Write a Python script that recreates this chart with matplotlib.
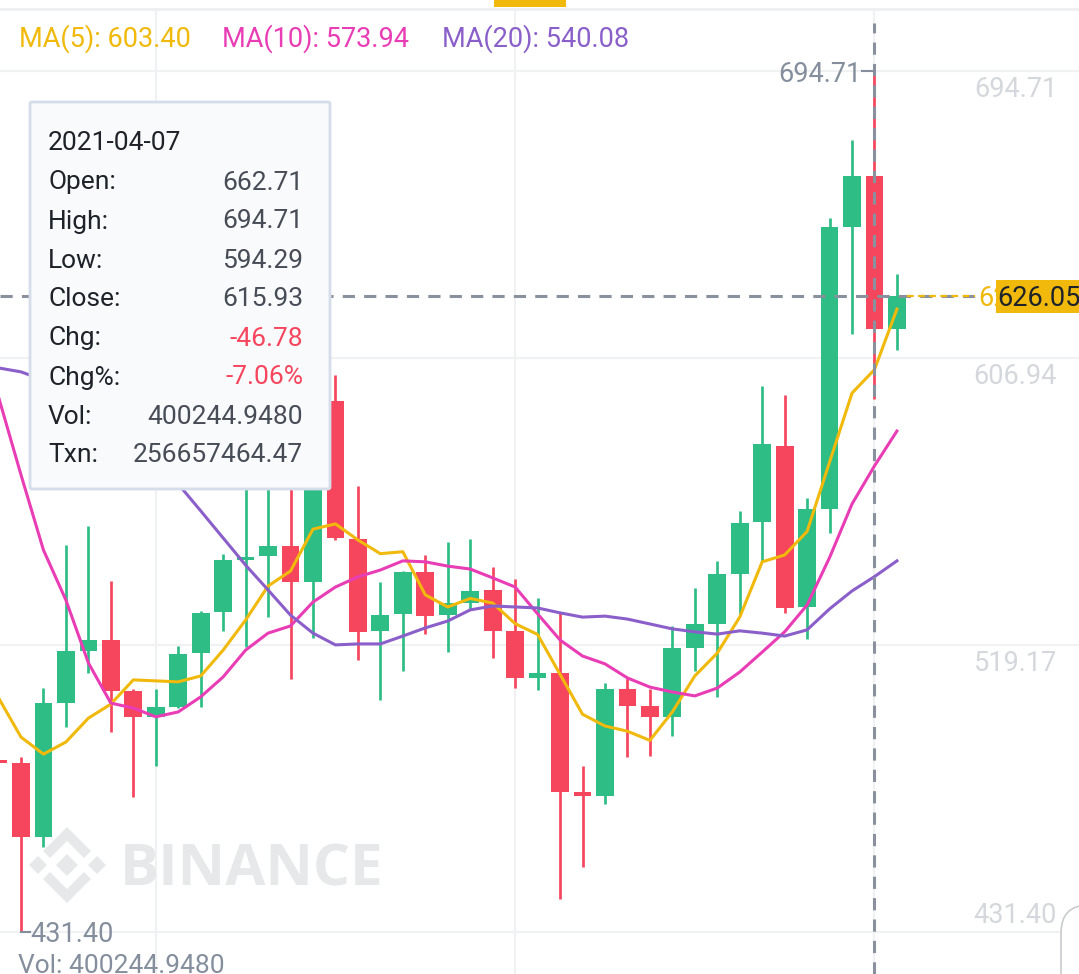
import matplotlib
matplotlib.use('Agg')
import matplotlib.pyplot as plt
from matplotlib.patches import Polygon, FancyBboxPatch, Rectangle
from matplotlib.transforms import Affine2D
import numpy as np

plt.rcParams['font.family'] = ['Roboto', 'DejaVu Sans']

W, H = 1079, 974

# candle data, first candle is cut off at the left edge
opens = [483.5, 483.1, 460.5, 501.3, 517.4, 520.7, 505.2, 497.3, 500.3, 516.8,
         529.2, 545.2, 546.4, 549.5, 538.3, 593.8, 551.5, 523.6, 528.6, 541.4,
         528.4, 532.1, 536.1, 523.4, 509.1, 510.6, 474.2, 472.9, 505.6, 500.6,
         497.1, 518.4, 525.7, 541.0, 556.7, 580.1, 530.7, 560.8, 646.9, 662.71,
         615.93]
highs = [490.0, 484.9, 506.1, 549.7, 555.6, 538.6, 505.6, 505.6, 519.0, 529.7,
         546.9, 575.0, 570.0, 572.0, 598.0, 601.7, 567.9, 538.4, 541.9, 546.8,
         550.7, 551.7, 543.0, 539.5, 533.5, 529.3, 482.3, 507.5, 509.1, 505.6,
         525.0, 536.5, 545.0, 560.0, 598.4, 595.7, 564.1, 649.7, 673.5, 694.71,
         632.5]
lows = [476.0, 431.40, 457.5, 494.0, 510.7, 492.5, 472.8, 482.3, 500.0, 500.3,
        523.3, 518.7, 527.8, 508.8, 521.2, 551.2, 514.6, 502.2, 511.3, 522.4,
        517.0, 529.9, 515.1, 506.1, 505.3, 441.6, 451.3, 470.4, 484.9, 485.1,
        491.4, 511.3, 503.3, 528.3, 544.8, 528.9, 521.1, 553.5, 614.4, 594.29,
        609.5]
closes = [483.0, 460.5, 501.5, 517.4, 520.7, 505.2, 497.3, 500.1, 516.4, 528.9,
          545.2, 545.8, 549.5, 538.3, 594.7, 552.0, 523.1, 528.2, 541.4, 528.1,
          532.1, 535.8, 523.6, 509.1, 510.6, 474.2, 472.9, 505.8, 500.6, 497.1,
          518.3, 525.5, 540.9, 556.5, 580.5, 530.5, 560.8, 646.9, 662.71, 615.93,
          626.05]

ma5 = [503.0, 491.0, 485.8, 489.5, 496.8, 501.1, 508.5, 508.2, 507.9, 509.7,
       517.6, 526.8, 537.2, 541.8, 554.6, 556.2, 551.3, 547.1, 547.7, 534.5,
       530.8, 533.4, 532.0, 525.7, 522.4, 510.2, 498.0, 494.4, 492.8, 490.0,
       498.7, 509.7, 516.7, 527.7, 544.6, 546.7, 553.9, 575.1, 596.2, 603.40,
       621.9]
ma10 = [595.0, 571.2, 548.2, 532.9, 513.7, 501.4, 499.9, 497.2, 498.7, 503.3,
        509.4, 517.6, 522.8, 525.0, 532.3, 536.9, 540.0, 542.1, 544.9, 544.6,
        543.3, 542.4, 539.7, 536.9, 528.7, 520.7, 515.8, 513.4, 509.1, 506.3,
        504.8, 503.6, 506.0, 510.9, 517.0, 523.2, 531.4, 545.9, 562.3, 573.94,
        584.6]
ma20 = [603.9, 602.7, 600.2, 596.5, 592.0, 586.8, 581.3, 575.4, 568.4, 560.2,
        551.9, 543.6, 536.0, 528.3, 522.8, 519.2, 519.5, 519.5, 521.9, 524.4,
        526.5, 529.9, 531.1, 530.8, 530.5, 529.0, 527.7, 528.0, 527.1, 525.6,
        524.1, 523.2, 522.5, 523.5, 522.8, 521.9, 523.8, 530.2, 535.7, 540.08,
        544.9]

price_ticks = [694.71, 606.94, 519.17, 431.40]
tip_date = '2021-04-07'
tip_vol = '400244.9480'
tip_txn = '256657464.47'
cross = 39          # candle under the crosshair
last_price = closes[-1]

green = '#2ebd85'
red = '#f6465d'
c_ma5, c_ma10, c_ma20 = '#f0b90b', '#e93db6', '#8b5fca'
grey = '#848e9c'

idx = np.arange(-1, len(opens) - 1)

# pixel layout of the screenshot
x0_px, step_px = 21, 22.46
y_ref_px, y_ref, px_per = 71, 694.71, 3.2699


def xi(px):
    return (px - x0_px) / step_px


def yp(px):
    return y_ref - (px - y_ref_px) / px_per


fig = plt.figure(figsize=(W / 100, H / 100), dpi=100)
ax = fig.add_axes([0, 0, 1, 1])
ax.set_xlim(xi(0), xi(W))
ax.set_ylim(yp(H), yp(0))
ax.axis('off')

PX = Affine2D().scale(1 / W, -1 / H).translate(0, 1) + fig.transFigure

# grid
for p in price_ticks:
    ax.axhline(p, color='#f0f1f3', lw=1.5, zorder=0)
for g in [6, 22, 38]:
    ax.axvline(g, ymax=1 - 9 / H, color='#f0f1f3', lw=1.5, zorder=0)
fig.add_artist(Rectangle((0, 7.5), W, 3, transform=PX, fc='#eff0f2', ec='none'))
fig.add_artist(Rectangle((494, 0), 72, 7, transform=PX, fc='#f0b90b', ec='none'))

# watermark
wm = '#e7e8ea'
logo = [
    [(67, 827), (91, 851), (84, 858), (67, 841), (50, 858), (43, 851)],
    [(67, 903), (91, 879), (84, 872), (67, 889), (50, 872), (43, 879)],
    [(67, 854), (78, 865), (67, 876), (56, 865)],
    [(38, 856), (47, 865), (38, 874), (29, 865)],
    [(97, 856), (106, 865), (97, 874), (88, 865)],
]
for pts in logo:
    ax.add_patch(Polygon(pts, closed=True, transform=PX, fc=wm, ec='none',
                         zorder=0.5, clip_on=False))
ax.text(120, 885, 'BINANCE', transform=PX, fontsize=42, fontweight='bold',
        family=['Open Sans', 'DejaVu Sans'], color=wm, zorder=0.5)

# candles
o = np.array(opens)
c = np.array(closes)
cols = [green if cc >= oo else red for oo, cc in zip(o, c)]
ax.vlines(idx, lows, highs, colors=cols, lw=1.95, zorder=2)
ax.bar(idx, np.maximum(np.abs(c - o), 0.9), bottom=np.minimum(o, c),
       width=0.79, color=cols, lw=0, zorder=2)

# moving averages
ax.plot(idx, ma5, color=c_ma5, lw=2.2, zorder=3)
ax.plot(idx, ma10, color=c_ma10, lw=2.2, zorder=3)
ax.plot(idx, ma20, color=c_ma20, lw=2.2, zorder=3)

# crosshair and price lines
ci = idx[cross]
ax.axvline(ci, ymax=1 - 23 / H, color='#8a919e', lw=2.2, dashes=(4, 3), zorder=4)
ax.plot([xi(0), xi(975)], [last_price, last_price], color='#8a919e', lw=2.2,
        dashes=(4, 3), zorder=4)
ax.plot([idx[-1] + 0.45, xi(975)], [last_price, last_price], color=c_ma5, lw=1.6,
        dashes=(3, 2), zorder=4.5)

# high / low markers
hi = highs[cross]
lo = min(lows)
lo_i = idx[int(np.argmin(lows))]
ax.plot([xi(862), ci], [hi, hi], color=grey, lw=1.5, zorder=4)
ax.text(xi(861), hi, f'{hi:.2f}', ha='right', va='center_baseline', fontsize=19.5,
        color=grey, zorder=5)
ax.plot([lo_i, xi(30)], [lo, lo], color=grey, lw=1.5, zorder=4)
ax.text(xi(30), lo, f'{lo:.2f}', ha='left', va='center_baseline', fontsize=19.5,
        color=grey, zorder=5)

# right axis labels
for p in price_ticks:
    off = -9 if p == min(price_ticks) else 26
    fig.text(1057, y_ref_px + (y_ref - p) * px_per + off,
             f'{p:.2f}', transform=PX, ha='right', va='baseline', fontsize=19.5,
             color='#d4d7dc')

# MA header
fig.text(19, 47, f'MA(5): {ma5[cross]:.2f}', transform=PX, fontsize=19.5, color=c_ma5)
fig.text(222, 47, f'MA(10): {ma10[cross]:.2f}', transform=PX, fontsize=19.5, color=c_ma10)
fig.text(442, 47, f'MA(20): {ma20[cross]:.2f}', transform=PX, fontsize=19.5, color=c_ma20)

# last price tag
fig.text(978, 306.5, f'{last_price:.2f}', transform=PX, fontsize=19.5, color=c_ma5)
fig.add_artist(Rectangle((996, 280), 83, 33, transform=PX, fc='#f0b90b', ec='none',
                         zorder=6))
fig.text(997, 306.5, f'{last_price:.2f}', transform=PX, fontsize=19.5,
         color='#1e2329', zorder=7)

# volume text
fig.text(18, 973, f'Vol: {tip_vol}', transform=PX, fontsize=19, color=grey)

# tooltip
fig.add_artist(FancyBboxPatch((30, 102), 300, 387, boxstyle='round,pad=0,rounding_size=2',
                              transform=PX, fc='#f9fafc', ec='#d5dcea', lw=2, zorder=10))
chg = closes[cross] - opens[cross]
chg_pct = chg / opens[cross] * 100
rows = [('Open:', f'{opens[cross]:.2f}', '#474d57'),
        ('High:', f'{highs[cross]:.2f}', '#474d57'),
        ('Low:', f'{lows[cross]:.2f}', '#474d57'),
        ('Close:', f'{closes[cross]:.2f}', '#474d57'),
        ('Chg:', f'{chg:.2f}', red),
        ('Chg%:', f'{chg_pct:.2f}%', red),
        ('Vol:', tip_vol, '#474d57'),
        ('Txn:', tip_txn, '#474d57')]
fig.text(48, 150.5, tip_date, transform=PX, fontsize=19, color='#1e2329', zorder=11)
for k, (lab, val, vc) in enumerate(rows):
    yb = 189.5 + k * 39
    fig.text(48, yb, lab, transform=PX, fontsize=19, color='#1e2329', zorder=11)
    fig.text(303, yb, val, transform=PX, fontsize=19, color=vc, ha='right', zorder=11)

# corner of a button at the bottom right
fig.add_artist(FancyBboxPatch((1061, 905), 80, 120, boxstyle='round,pad=0,rounding_size=28',
                              transform=PX, fc='white', ec='#c9cbce', lw=1.2, zorder=8))

fig.savefig('out.png', dpi=100)
